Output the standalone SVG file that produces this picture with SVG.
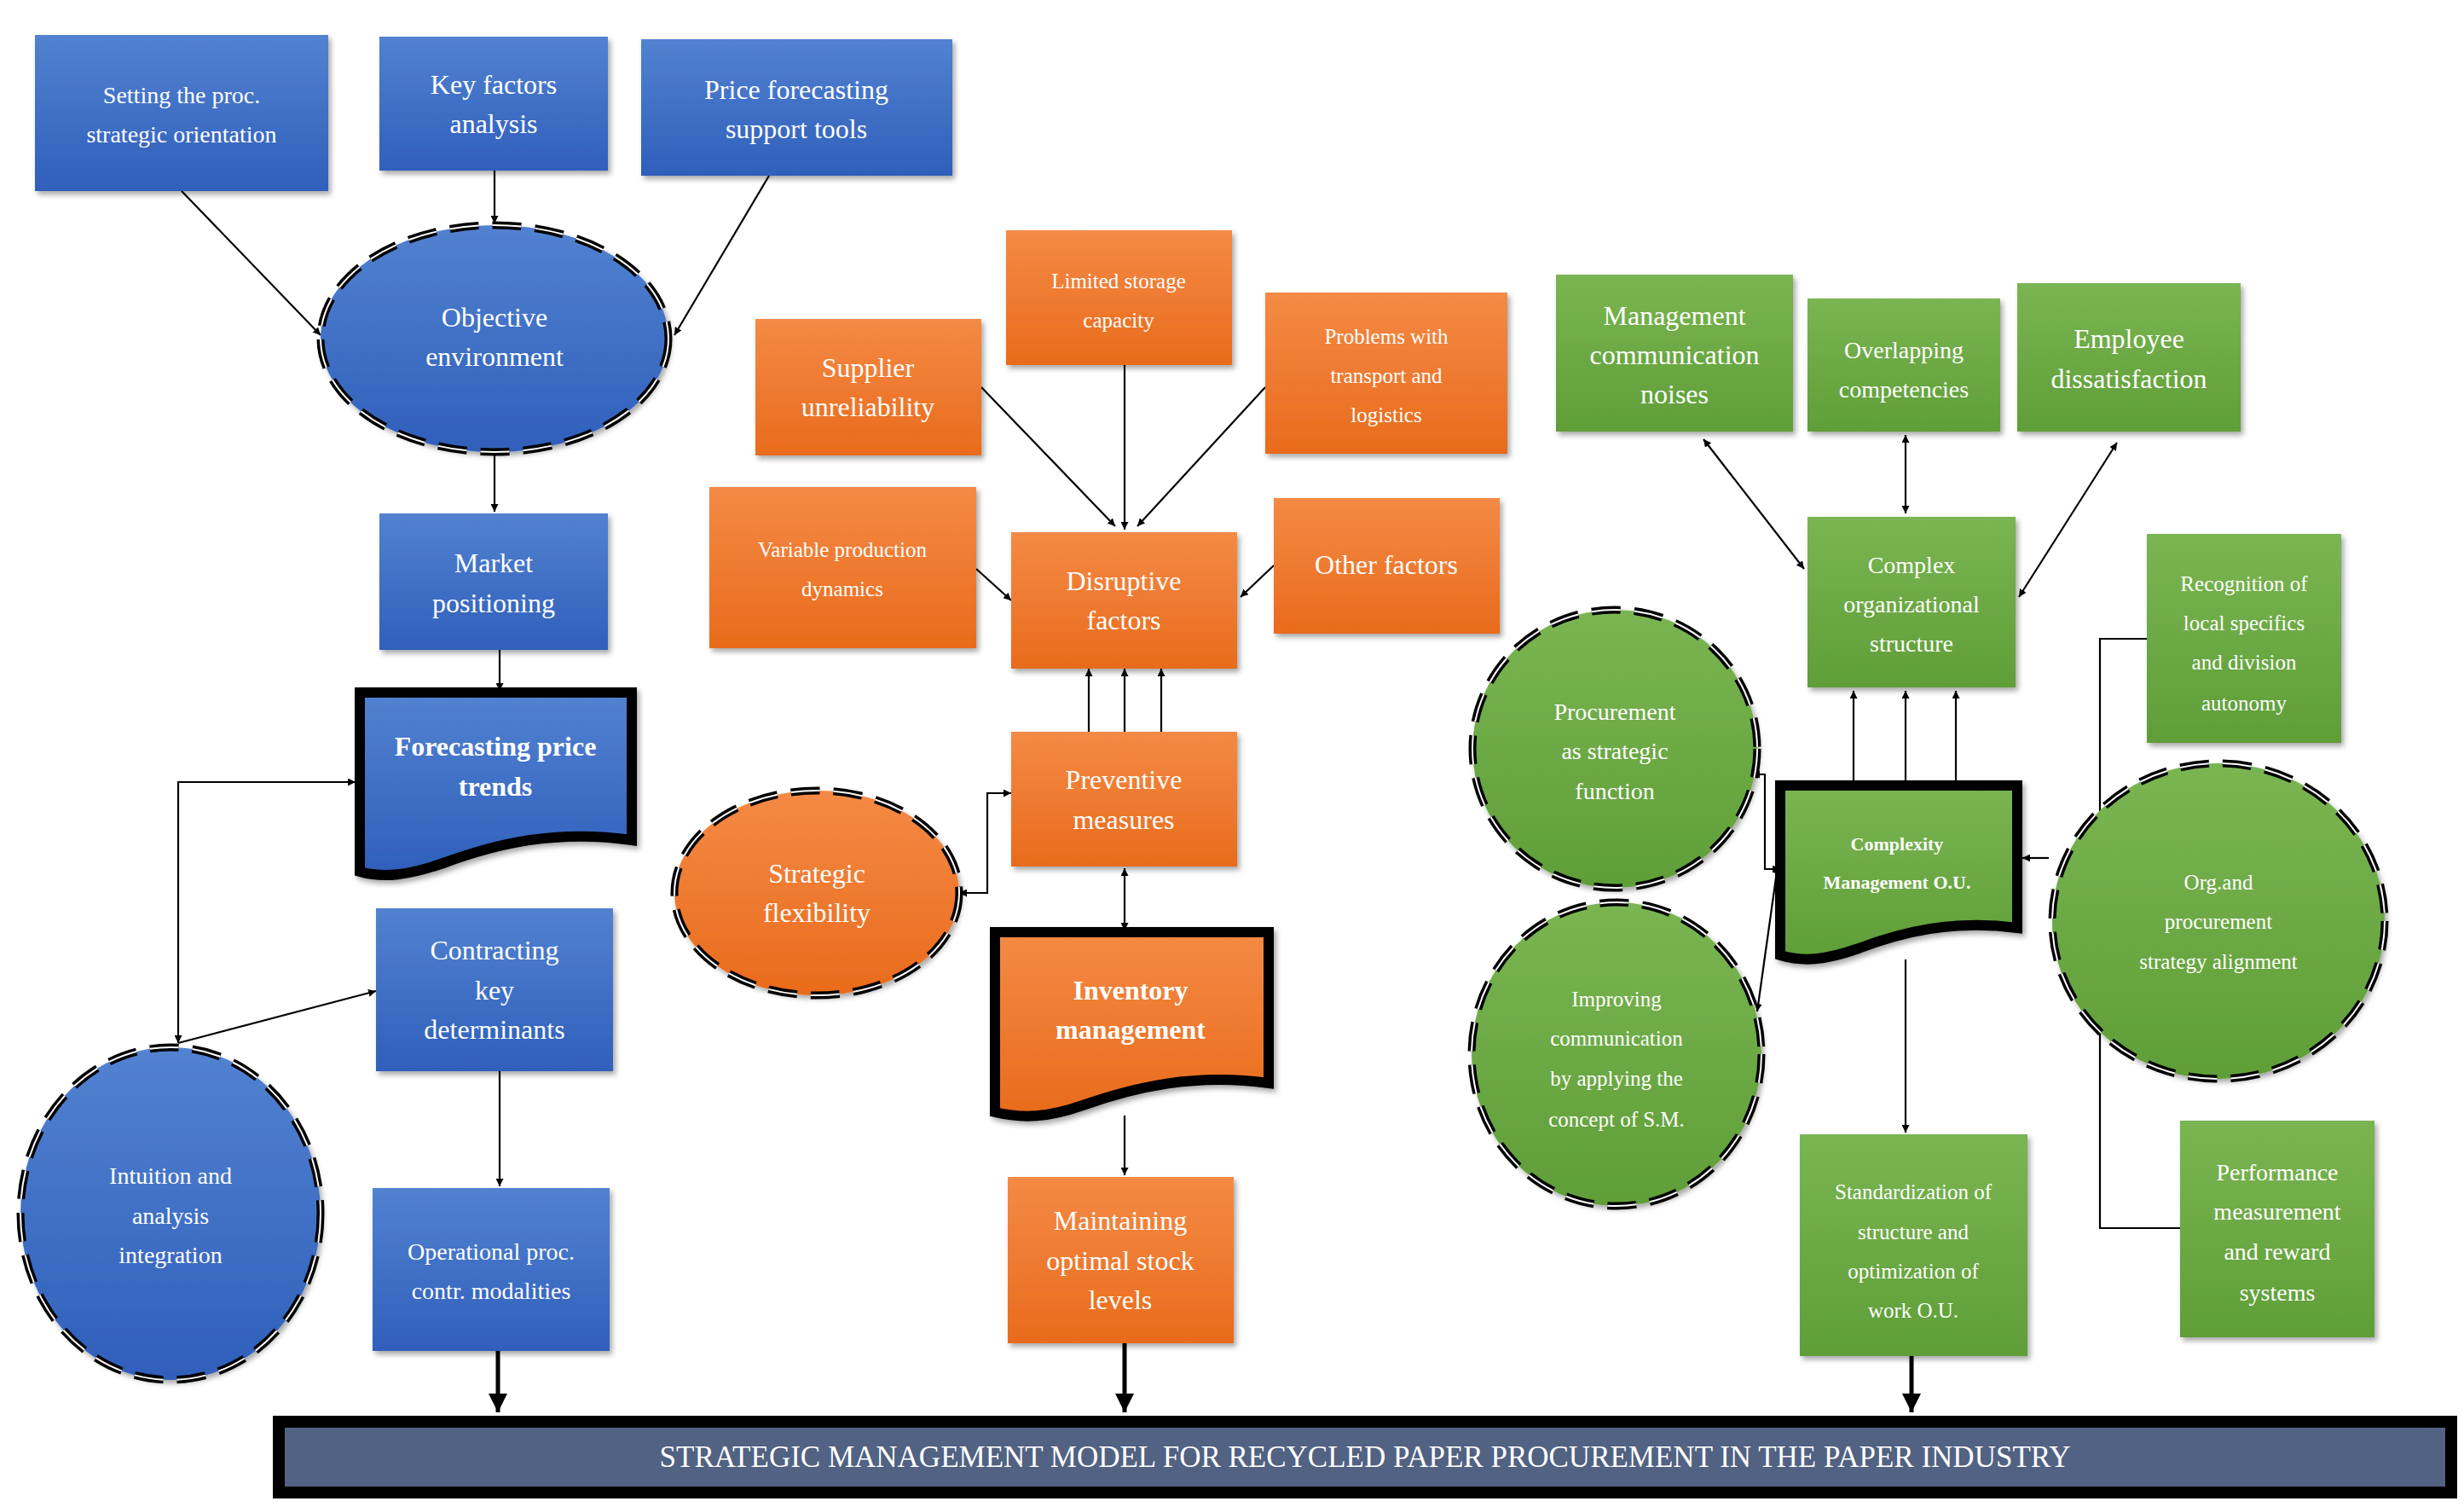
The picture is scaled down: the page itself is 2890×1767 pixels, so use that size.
<svg xmlns="http://www.w3.org/2000/svg" width="2890" height="1767" viewBox="0 0 2890 1767">
<defs>
<linearGradient id="gb" x1="0" y1="0" x2="0" y2="1"><stop offset="0" stop-color="#5282d0"/><stop offset="1" stop-color="#2f5fbb"/></linearGradient>
<linearGradient id="go" x1="0" y1="0" x2="0" y2="1"><stop offset="0" stop-color="#f48a45"/><stop offset="1" stop-color="#e96b1c"/></linearGradient>
<linearGradient id="gg" x1="0" y1="0" x2="0" y2="1"><stop offset="0" stop-color="#7ab552"/><stop offset="1" stop-color="#5f9e38"/></linearGradient>
<filter id="sh" x="-10%" y="-10%" width="125%" height="125%"><feDropShadow dx="3" dy="4" stdDeviation="3" flood-color="#000" flood-opacity="0.35"/></filter>
<marker id="ah" viewBox="0 0 10 10" refX="10" refY="5" markerWidth="9" markerHeight="9" orient="auto-start-reverse" markerUnits="userSpaceOnUse"><path d="M0,0 L10,5 L0,10 Z" fill="#000"/></marker>
<marker id="ahb" viewBox="0 0 10 10" refX="10" refY="5" markerWidth="22" markerHeight="22" orient="auto-start-reverse" markerUnits="userSpaceOnUse"><path d="M0,0 L10,5 L0,10 Z" fill="#000"/></marker>
</defs>
<style>
text{font-family:"Liberation Serif","DejaVu Serif",serif;fill:#fff;text-anchor:middle}
.b{fill:url(#gb);filter:url(#sh)}
.o{fill:url(#go);filter:url(#sh)}
.g{fill:url(#gg);filter:url(#sh)}
.doc{stroke:#000;stroke-width:12}
.dash{fill:none;stroke:#000;stroke-width:9;stroke-dasharray:34 16}
.dashw{fill:none;stroke:#fff;stroke-width:2;stroke-dasharray:34 16}
.c{fill:none;stroke:#000;stroke-width:2.2;marker-end:url(#ah)}
.cc{fill:none;stroke:#000;stroke-width:2.2;marker-end:url(#ah);marker-start:url(#ah)}
.cl{fill:none;stroke:#000;stroke-width:2.2}
.ct{fill:none;stroke:#000;stroke-width:5;marker-end:url(#ahb)}
.t32{font-size:32px}.t28{font-size:28px}.t25{font-size:25px}.t22{font-size:22px}
</style>

<g id="connectors">
<path class="c" d="M213,224 L376,393"/>
<path class="c" d="M580,200 L580,262"/>
<path class="c" d="M902,206 L791,393"/>
<path class="c" d="M580,530 L580,600"/>
<path class="c" d="M586,762 L586,810"/>
<path class="cc" d="M417,917 H209 V1223"/>
<path class="c" d="M209,1223 L441,1162"/>
<path class="c" d="M586,1256 L586,1391"/>
<path class="ct" d="M584,1584 L584,1656"/>
<path class="c" d="M1151,454 L1308,617"/>
<path class="c" d="M1319,428 L1319,621"/>
<path class="c" d="M1484,454 L1334,617"/>
<path class="c" d="M1145,667 L1186,704"/>
<path class="c" d="M1494,663 L1455,700"/>
<path class="c" d="M1277,858 L1277,784"/>
<path class="c" d="M1319,858 L1319,784"/>
<path class="c" d="M1362,858 L1362,784"/>
<path class="cc" d="M1125,1047 H1158 V930 H1186"/>
<path class="cc" d="M1319,1018 L1319,1091"/>
<path class="c" d="M1319,1308 L1319,1378"/>
<path class="ct" d="M1319,1575 L1319,1656"/>
<path class="cc" d="M1998,515 L2116,667"/>
<path class="cc" d="M2235,510 L2235,602"/>
<path class="cc" d="M2483,519 L2368,700"/>
<path class="c" d="M2174,921 L2174,810"/>
<path class="c" d="M2235,921 L2235,810"/>
<path class="c" d="M2294,921 L2294,810"/>
<path class="cc" d="M2055,908 H2070 V1019 H2088"/>
<path class="cc" d="M2061,1186 L2085,1015"/>
<path class="c" d="M2403,1006 L2372,1006"/>
<path class="cl" d="M2518,749 H2463 V1440 H2557"/>
<path class="c" d="M2235,1125 L2235,1328"/>
<path class="ct" d="M2242,1590 L2242,1656"/>
</g>

<g id="setting"><rect class="b" x="41" y="41" width="344" height="183"/><text class="t28" x="213" y="121">Setting the proc.</text><text class="t28" x="213" y="167">strategic orientation</text></g>
<g id="keyfactors"><rect class="b" x="445" y="43" width="268" height="157"/><text class="t32" x="579" y="110">Key factors</text><text class="t32" x="579" y="156">analysis</text></g>
<g id="priceforecasting"><rect class="b" x="752" y="46" width="365" height="160"/><text class="t32" x="934" y="116">Price forecasting</text><text class="t32" x="934" y="162">support tools</text></g>
<g id="objective"><ellipse class="b" cx="580" cy="397" rx="204" ry="133"/><ellipse class="dash" cx="580" cy="397" rx="204" ry="133"/><ellipse class="dashw" cx="580" cy="397" rx="204" ry="133"/><text class="t32" x="580" y="383">Objective</text><text class="t32" x="580" y="429">environment</text></g>
<g id="market"><rect class="b" x="445" y="602" width="268" height="160"/><text class="t32" x="579" y="671">Market</text><text class="t32" x="579" y="718">positioning</text></g>
<g id="forecasting"><path class="b doc" d="M422,812 H741 V985 C650,972 580,990 520,1012 C480,1026 450,1030 422,1022 Z"/><text class="t32" x="581" y="886" font-weight="bold">Forecasting price</text><text class="t32" x="581" y="933" font-weight="bold">trends</text></g>
<g id="contracting"><rect class="b" x="441" y="1065" width="278" height="191"/><text class="t32" x="580" y="1125">Contracting</text><text class="t32" x="580" y="1172">key</text><text class="t32" x="580" y="1218">determinants</text></g>
<g id="operational"><rect class="b" x="437" y="1393" width="278" height="191"/><text class="t28" x="576" y="1477">Operational proc.</text><text class="t28" x="576" y="1523">contr. modalities</text></g>
<g id="intuition"><ellipse class="b" cx="200" cy="1423" rx="176" ry="195"/><ellipse class="dash" cx="200" cy="1423" rx="176" ry="195"/><ellipse class="dashw" cx="200" cy="1423" rx="176" ry="195"/><text class="t28" x="200" y="1388">Intuition and</text><text class="t28" x="200" y="1435">analysis</text><text class="t28" x="200" y="1481">integration</text></g>

<g id="limited"><rect class="o" x="1180" y="270" width="265" height="158"/><text class="t25" x="1312" y="338">Limited storage</text><text class="t25" x="1312" y="384">capacity</text></g>
<g id="supplier"><rect class="o" x="886" y="374" width="265" height="160"/><text class="t32" x="1018" y="442">Supplier</text><text class="t32" x="1018" y="488">unreliability</text></g>
<g id="problems"><rect class="o" x="1484" y="343" width="284" height="189"/><text class="t25" x="1626" y="403">Problems with</text><text class="t25" x="1626" y="449">transport and</text><text class="t25" x="1626" y="495">logistics</text></g>
<g id="variable"><rect class="o" x="832" y="571" width="313" height="189"/><text class="t25" x="988" y="653">Variable production</text><text class="t25" x="988" y="699">dynamics</text></g>
<g id="disruptive"><rect class="o" x="1186" y="624" width="265" height="160"/><text class="t32" x="1318" y="692">Disruptive</text><text class="t32" x="1318" y="738">factors</text></g>
<g id="other"><rect class="o" x="1494" y="584" width="265" height="159"/><text class="t32" x="1626" y="673">Other factors</text></g>
<g id="preventive"><rect class="o" x="1186" y="858" width="265" height="158"/><text class="t32" x="1318" y="925">Preventive</text><text class="t32" x="1318" y="972">measures</text></g>
<g id="flexibility"><ellipse class="o" cx="958" cy="1047" rx="167" ry="120"/><ellipse class="dash" cx="958" cy="1047" rx="167" ry="120"/><ellipse class="dashw" cx="958" cy="1047" rx="167" ry="120"/><text class="t32" x="958" y="1035">Strategic</text><text class="t32" x="958" y="1081">flexibility</text></g>
<g id="inventory"><path class="o doc" d="M1167,1093 H1488 V1270 C1400,1258 1330,1275 1270,1296 C1230,1310 1200,1312 1167,1304 Z"/><text class="t32" x="1326" y="1172" font-weight="bold">Inventory</text><text class="t32" x="1326" y="1218" font-weight="bold">management</text></g>
<g id="maintaining"><rect class="o" x="1182" y="1380" width="265" height="195"/><text class="t32" x="1314" y="1442">Maintaining</text><text class="t32" x="1314" y="1489">optimal stock</text><text class="t32" x="1314" y="1535">levels</text></g>

<g id="noises"><rect class="g" x="1825" y="322" width="278" height="184"/><text class="t32" x="1964" y="381">Management</text><text class="t32" x="1964" y="427">communication</text><text class="t32" x="1964" y="473">noises</text></g>
<g id="overlapping"><rect class="g" x="2120" y="350" width="226" height="156"/><text class="t28" x="2233" y="420">Overlapping</text><text class="t28" x="2233" y="466">competencies</text></g>
<g id="employee"><rect class="g" x="2366" y="332" width="262" height="174"/><text class="t32" x="2497" y="408">Employee</text><text class="t32" x="2497" y="455">dissatisfaction</text></g>
<g id="complex"><rect class="g" x="2120" y="606" width="244" height="200"/><text class="t28" x="2242" y="672">Complex</text><text class="t28" x="2242" y="718">organizational</text><text class="t28" x="2242" y="764">structure</text></g>
<g id="recognition"><rect class="g" x="2518" y="626" width="228" height="245"/><text class="t25" x="2632" y="693">Recognition of</text><text class="t25" x="2632" y="739">local specifics</text><text class="t25" x="2632" y="785">and division</text><text class="t25" x="2632" y="833">autonomy</text></g>
<g id="procurement"><ellipse class="g" cx="1894" cy="878" rx="167" ry="163"/><ellipse class="dash" cx="1894" cy="878" rx="167" ry="163"/><ellipse class="dashw" cx="1894" cy="878" rx="167" ry="163"/><text class="t28" x="1894" y="844">Procurement</text><text class="t28" x="1894" y="890">as strategic</text><text class="t28" x="1894" y="937">function</text></g>
<g id="complexity"><path class="g doc" d="M2088,921 H2366 V1088 C2290,1078 2230,1093 2180,1112 C2140,1126 2115,1128 2088,1120 Z"/><text class="t22" x="2225" y="997" font-weight="bold">Complexity</text><text class="t22" x="2225" y="1042" font-weight="bold">Management O.U.</text></g>
<g id="alignment"><ellipse class="g" cx="2602" cy="1080" rx="195" ry="185"/><ellipse class="dash" cx="2602" cy="1080" rx="195" ry="185"/><ellipse class="dashw" cx="2602" cy="1080" rx="195" ry="185"/><text class="t25" x="2602" y="1043">Org.and</text><text class="t25" x="2602" y="1089">procurement</text><text class="t25" x="2602" y="1136">strategy alignment</text></g>
<g id="improving"><ellipse class="g" cx="1896" cy="1236" rx="170" ry="178"/><ellipse class="dash" cx="1896" cy="1236" rx="170" ry="178"/><ellipse class="dashw" cx="1896" cy="1236" rx="170" ry="178"/><text class="t25" x="1896" y="1180">Improving</text><text class="t25" x="1896" y="1226">communication</text><text class="t25" x="1896" y="1273">by applying the</text><text class="t25" x="1896" y="1321">concept of S.M.</text></g>
<g id="standardization"><rect class="g" x="2111" y="1330" width="267" height="260"/><text class="t25" x="2244" y="1406">Standardization of</text><text class="t25" x="2244" y="1453">structure and</text><text class="t25" x="2244" y="1499">optimization of</text><text class="t25" x="2244" y="1545">work O.U.</text></g>
<g id="performance"><rect class="g" x="2557" y="1314" width="228" height="254"/><text class="t28" x="2671" y="1384">Performance</text><text class="t28" x="2671" y="1430">measurement</text><text class="t28" x="2671" y="1477">and reward</text><text class="t28" x="2671" y="1525">systems</text></g>

<g id="banner"><rect x="327" y="1667" width="2548" height="83" fill="#516282" stroke="#000" stroke-width="14"/><text x="1601" y="1720" font-size="35">STRATEGIC MANAGEMENT MODEL FOR RECYCLED PAPER  PROCUREMENT IN THE PAPER  INDUSTRY</text></g>
</svg>
